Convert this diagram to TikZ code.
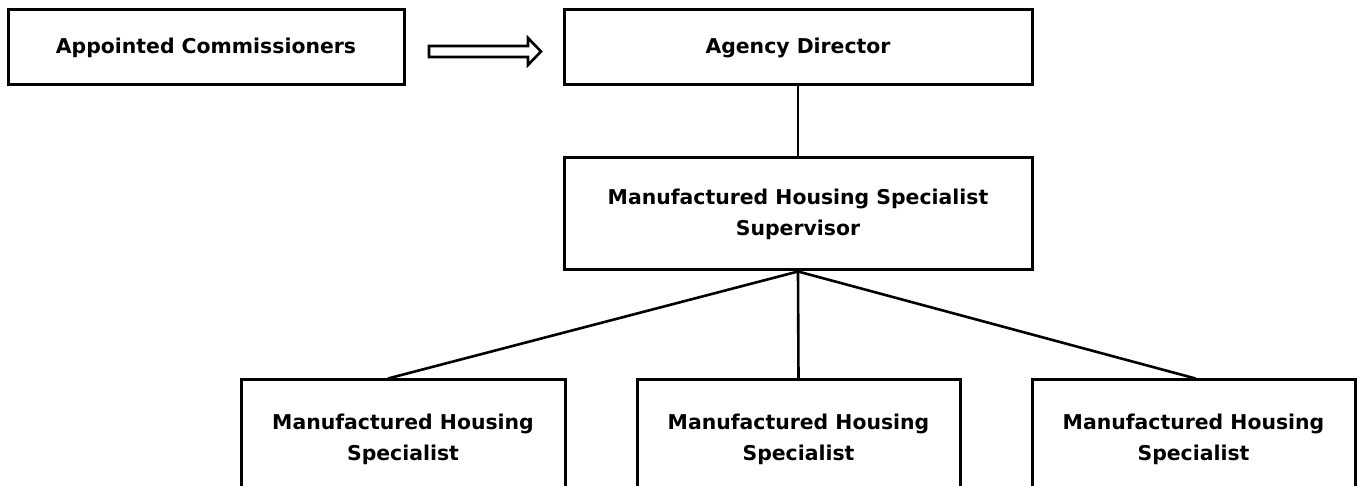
\documentclass[tikz,border=0pt]{standalone}
\usepackage{fontspec}
\setmainfont{DejaVu Sans}
\begin{document}
\begin{tikzpicture}[x=0.5pt,y=-0.5pt,
  box/.style={draw,line width=1.5pt,fill=white,font=\bfseries\fontsize{10.2}{15.5}\selectfont,align=center,inner sep=0pt},
  conn/.style={line width=1.3pt}]
\useasboundingbox (0,0) rectangle (1357,486);
\clip (0,0) rectangle (1357,486);
\node[box,minimum width=396*0.5pt,minimum height=75*0.5pt] (ac) at (206,47.5) {Appointed Commissioners};
\node[box,minimum width=468*0.5pt,minimum height=75*0.5pt] (ad) at (798,47.5) {Agency Director};
\node[box,minimum width=468*0.5pt,minimum height=112*0.5pt] (sup) at (798,214) {Manufactured Housing Specialist\\Supervisor};
\node[box,minimum width=324*0.5pt,minimum height=118*0.5pt] (s1) at (403,439) {Manufactured Housing\\Specialist};
\node[box,minimum width=323*0.5pt,minimum height=118*0.5pt] (s2) at (798.5,439) {Manufactured Housing\\Specialist};
\node[box,minimum width=323*0.5pt,minimum height=118*0.5pt] (s3) at (1193.5,439) {Manufactured Housing\\Specialist};
\draw[conn] (ad.south) -- (sup.north);
\draw[conn] (sup.south) -- ([xshift=-7.5pt]s1.north);
\draw[conn] (sup.south) -- (s2.north);
\draw[conn] (sup.south) -- ([xshift=1pt]s3.north);
\draw[line width=1.3pt,line join=miter] (429,46) -- (528,46) -- (528,38) -- (541,51.5) -- (528,65) -- (528,57) -- (429,57) -- cycle;
\end{tikzpicture}
\end{document}
